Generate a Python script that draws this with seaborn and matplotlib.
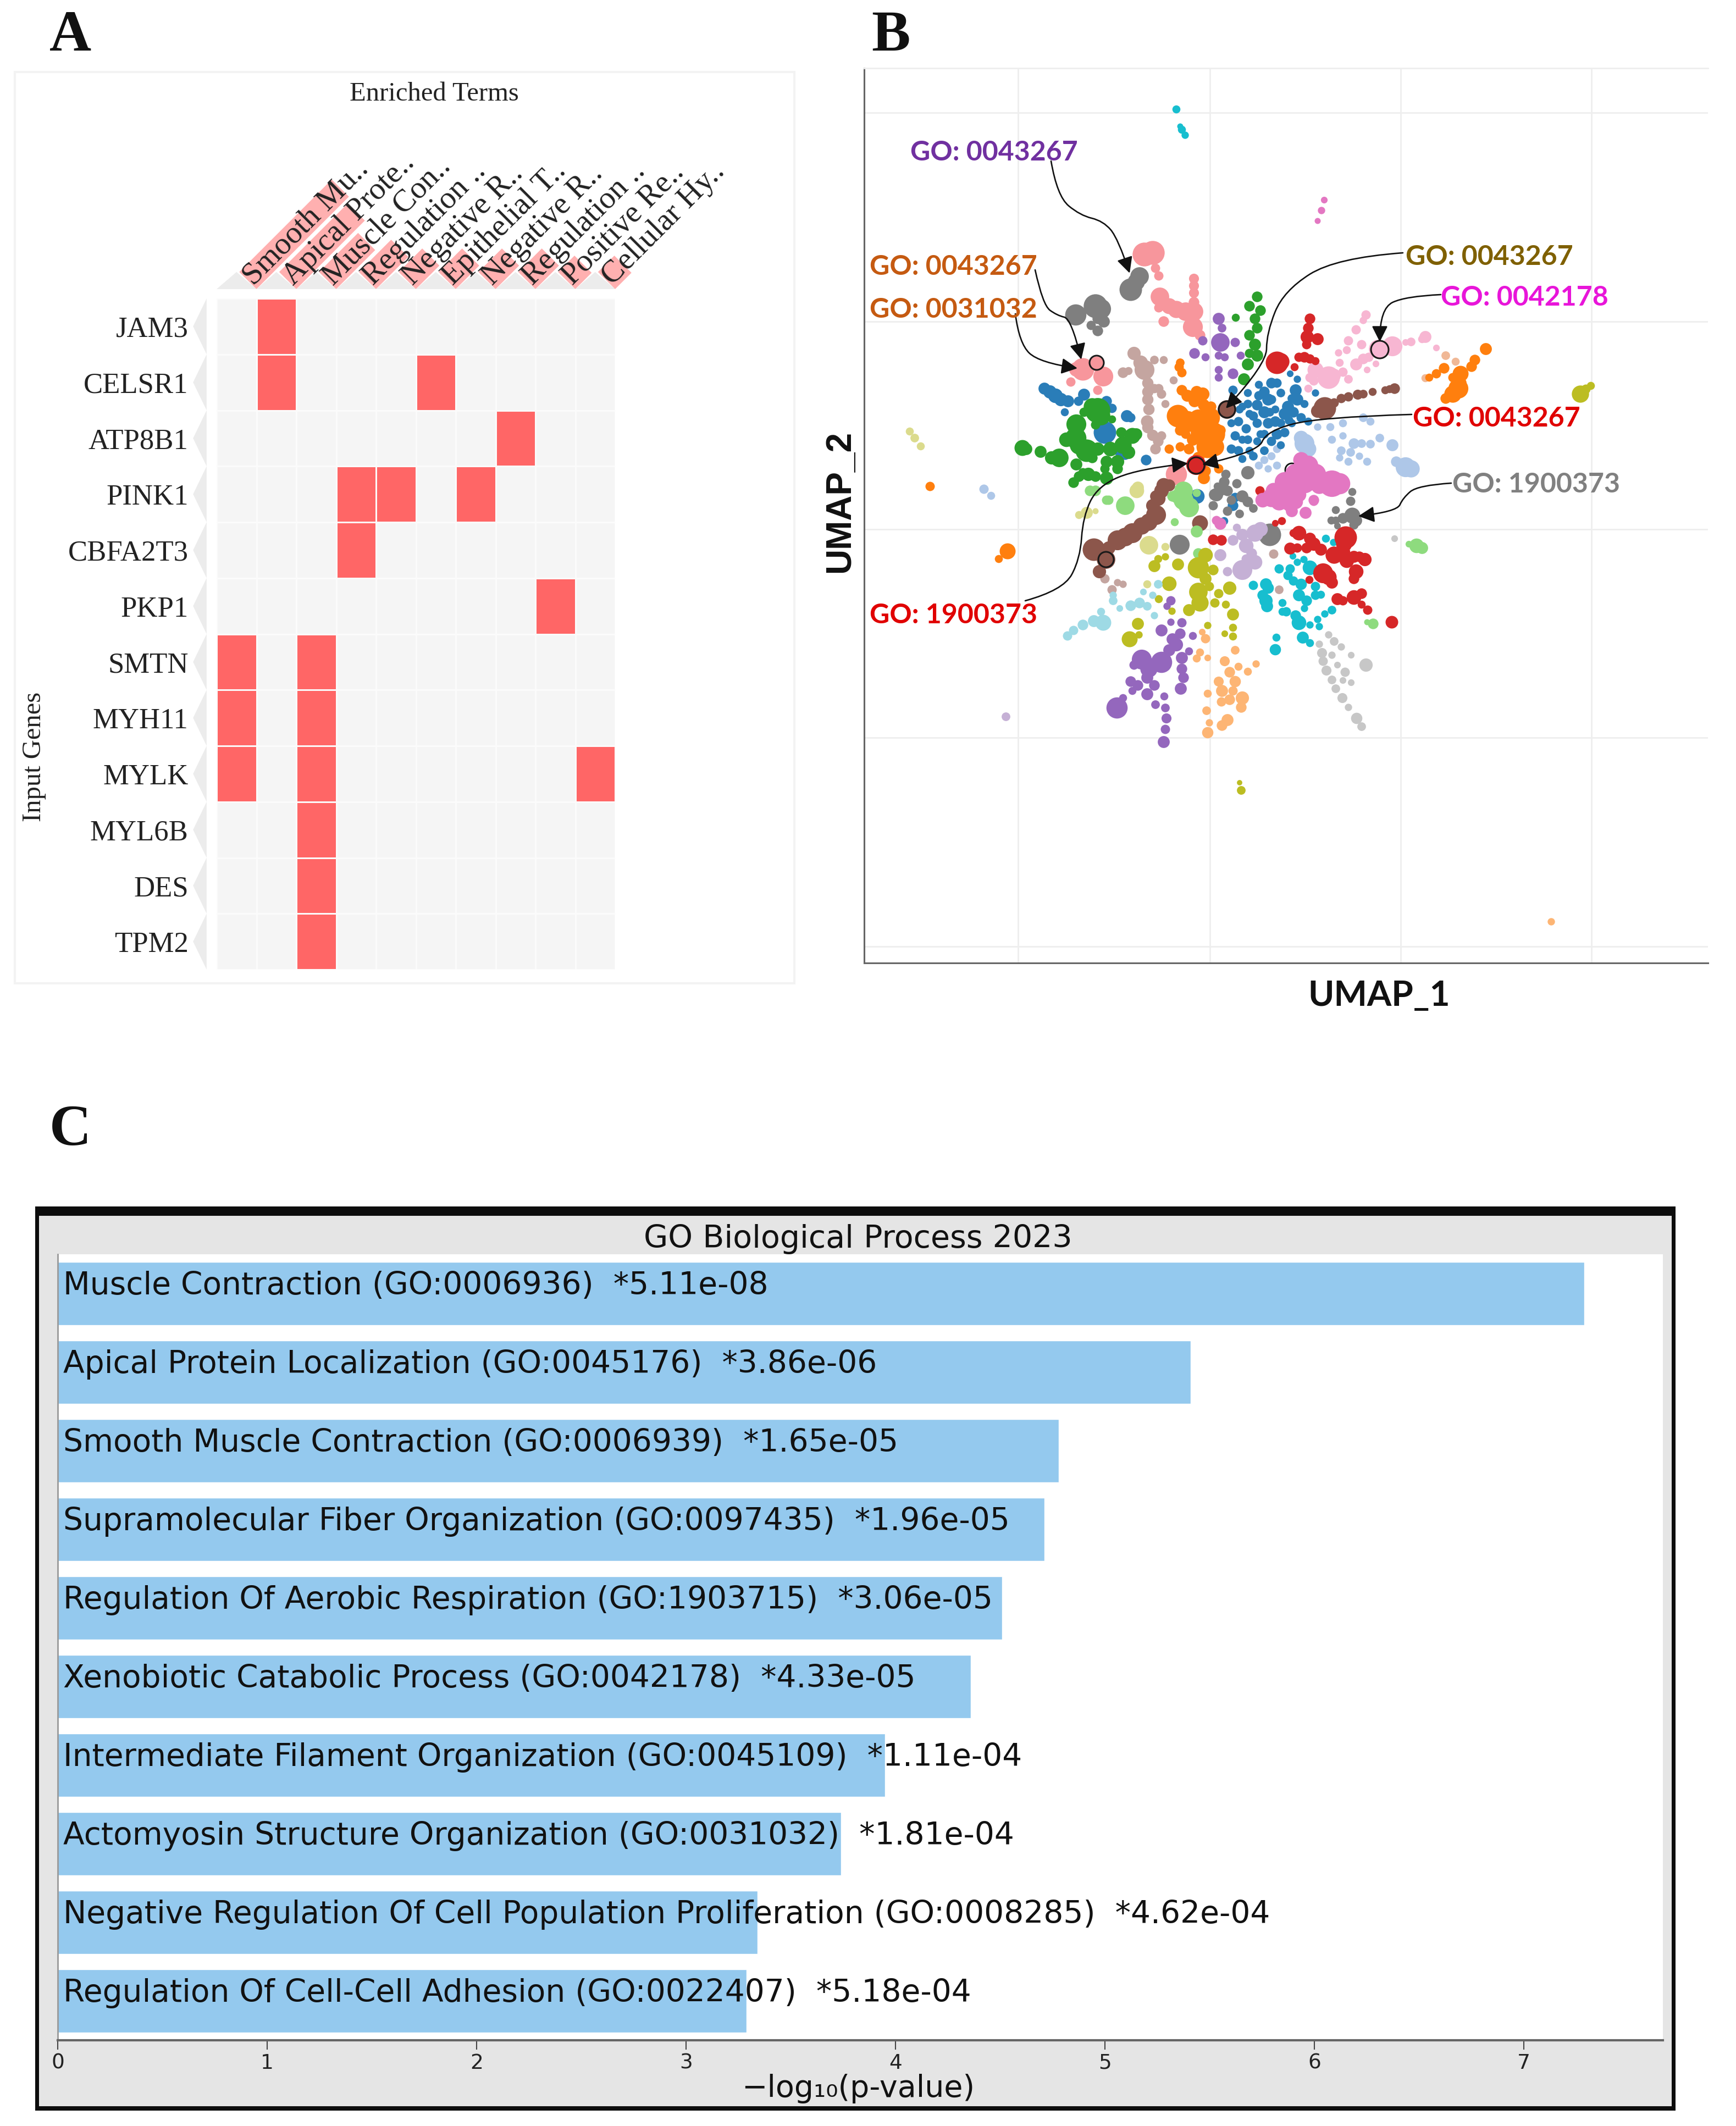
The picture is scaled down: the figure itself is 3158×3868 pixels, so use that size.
import numpy as np
import pandas as pd
import matplotlib
matplotlib.use("Agg")
import matplotlib.pyplot as plt
from matplotlib.colors import ListedColormap
from matplotlib.patches import FancyArrowPatch, Polygon, Rectangle
from matplotlib.path import Path
from matplotlib.transforms import ScaledTranslation
import seaborn as sns

sns.set_theme(style="white")
plt.rcParams["font.family"] = ["DejaVu Sans"]

W, H = 3158, 3868
DPI = 100
SERIF = "Liberation Serif"
SANS = "Lato"

# ---------------- Panel A data ----------------
genes = ["JAM3", "CELSR1", "ATP8B1", "PINK1", "CBFA2T3", "PKP1", "SMTN", "MYH11",
         "MYLK", "MYL6B", "DES", "TPM2"]
terms = ["Smooth Mu..", "Apical Prote..", "Muscle Con..", "Regulation ..", "Negative R..",
         "Epithelial T..", "Negative R..", "Regulation ..", "Positive Re..", "Cellular Hy.."]
term_scores = [2.32, 1.72, 0.98, 0.81, 0.59, 0.59, 0.59, 0.59, 0.41, 0.41]
membership = [
    [0, 1, 0, 0, 0, 0, 0, 0, 0, 0],
    [0, 1, 0, 0, 0, 1, 0, 0, 0, 0],
    [0, 0, 0, 0, 0, 0, 0, 1, 0, 0],
    [0, 0, 0, 1, 1, 0, 1, 0, 0, 0],
    [0, 0, 0, 1, 0, 0, 0, 0, 0, 0],
    [0, 0, 0, 0, 0, 0, 0, 0, 1, 0],
    [1, 0, 1, 0, 0, 0, 0, 0, 0, 0],
    [1, 0, 1, 0, 0, 0, 0, 0, 0, 0],
    [1, 0, 1, 0, 0, 0, 0, 0, 0, 1],
    [0, 0, 1, 0, 0, 0, 0, 0, 0, 0],
    [0, 0, 1, 0, 0, 0, 0, 0, 0, 0],
    [0, 0, 1, 0, 0, 0, 0, 0, 0, 0],
]

# ---------------- Panel B data ----------------
# The UMAP axes carry no tick labels; values are (x, y, dot diameter) read on the picture's own scale.
light_blue = [(2373,807,26),(2380,817,20),(2367,797,18),(2557,850,26),(2567,853,22),(2540,840,12),(2533,810,14),
    (2510,797,9),(2493,808,9),(2477,807,9),(2463,807,12),(2457,823,9),(2440,820,9),(2437,833,7),(2453,840,8),
    (2473,830,7),(2487,840,8),(2480,760,9),(2493,767,8),(2443,770,8),(2420,777,8),(2397,777,7),(2443,793,7),
    (2423,800,8),(2300,837,8),(2313,830,8),(2323,847,8),(2290,847,8),(2307,853,7),(2323,817,8),(1790,890,10),(1803,902,8)]
blue = [(1900,707,14),(1910,713,16),(1920,720,18),(1930,727,16),(1943,730,14),(1972,718,14),(1962,730,10),(2010,787,30),
    (2050,757,14),(2057,760,10),(2013,730,12),(2023,743,10),(1937,750,8),(2037,820,14),(2047,827,12),(2085,837,12),
    (2300,713,12),(2313,697,12),(2323,697,10),(2307,727,14),(2287,737,12),(2300,750,14),(2313,727,10),(2357,710,14),
    (2360,727,14),(2343,740,14),(2337,753,14),(2353,750,12),(2320,767,12),(2307,770,12),(2287,770,10),(2323,790,12),
    (2337,787,10),(2313,803,10),(2293,790,8),(2280,757,10),(2367,760,10),(2380,767,8),(2360,690,7),(2347,680,6),
    (2393,715,7),(2253,767,10),(2267,780,10),(2247,793,10),(2240,817,10),(2260,800,8),(2273,753,8),(2273,820,8),
    (2253,820,10),(2243,710,10),(2260,740,8),(2287,803,8),(2178,903,18),(2243,920,12),(2247,905,10),(2227,948,8),
    (2290,720,10),(2330,715,9),(2345,765,9),(2300,790,9),(2270,735,9),(2255,745,8),(2330,770,9),(2310,750,9),
    (2270,800,9),(2350,725,9),(2373,735,8),(2320,745,8),(2280,830,9),(2300,820,9),(2260,835,8),(2240,770,8),
    (2330,810,8),(2350,770,8),(2290,700,8),(2270,715,8)]
rosy = [(2063,643,16),(2075,660,18),(2082,673,26),(2043,678,12),(2053,675,8),(2100,655,9),(2117,655,8),(2088,697,13),
    (2088,713,13),(2088,727,13),(2090,745,13),(2108,707,10),(2113,717,10),(2100,707,10),(2087,767,15),(2088,778,13),
    (2097,792,13),(2107,803,12),(2102,817,12),(2113,793,10),(2120,735,8),(2135,692,8),(2317,1008,10),(2327,1073,9),
    (2023,1073,10),(2043,1063,7),(2033,1060,7),(2010,1053,10)]
grey = [(2073,503,24),(2067,513,22),(2057,527,30),(1957,573,28),(1993,557,32),(2003,562,26),(2008,585,14),(1997,580,12),
    (1985,592,10),(1997,602,12),(2213,900,16),(2233,893,12),(2260,903,14),(2207,920,10),(2233,930,10),(2270,913,12),
    (2310,973,30),(2146,991,26),(2270,860,16),(2227,877,12),(2210,900,14),(2223,893,10),(2230,863,10),(2460,938,20),
    (2467,947,14),(2443,943,12),(2430,947,8),(2422,947,8),(2430,928,8),(2457,912,10),(2460,895,8),(2463,955,10),(2433,957,6),
    (2250,880,10),(2240,910,10),(2215,885,8),(2280,925,9),(2255,935,9)]
cyan = [(2307,1070,13),(2303,1093,16),(2343,1047,10),(2327,1035,10),(2347,1035,10),(2383,1033,18),(2367,1063,13),(2353,1057,10),
    (2363,1083,14),(2377,1093,12),(2393,1083,10),(2393,1067,10),(2403,1082,8),(2333,1097,8),(2340,1113,10),(2357,1120,12),
    (2363,1133,18),(2370,1160,14),(2383,1170,8),(2320,1182,13),(2322,1160,8),(2397,1127,7),(2400,1140,7),(2383,1137,7),
    (2410,1117,7),(2423,1110,9),(2412,980,8),(2426,987,7),(2360,1023,7),(2352,1012,6),(2372,1018,7),(2373,1107,7),
    (2303,1063,14),(2280,1065,10),(2297,1083,12),(2305,1103,14),(2333,1113,8),(2140,199,8),(2150,236,8),(2156,246,7),(2147,230,5)]
lilac = [(2260,1037,26),(2283,1023,18),(2267,993,18),(2283,970,22),(2293,963,18),(2260,973,14),(2243,983,12),(2277,1007,12),
    (2220,1010,14),(2233,1040,10),(2267,1017,10),(2250,960,8),(1830,1304,9)]
salmon = [(2082,463,32),(2097,460,32),(2102,488,10),(2108,502,10),(2172,507,11),(2172,520,11),(2172,533,11),(2172,550,12),
    (2110,540,24),(2127,557,20),(2140,563,22),(2157,567,24),(2172,567,24),(2117,585,12),(2108,560,10),(2170,595,26),
    (2183,610,12),(1970,672,30),(1958,672,18),(1995,662,18),(2007,685,26),(1948,695,10),(1997,710,10),(2140,863,28)]
green = [(1997,747,34),(1987,740,22),(2003,757,24),(1958,772,26),(1957,797,28),(1940,800,18),(1977,820,30),(1963,810,24),
    (1927,833,24),(1913,833,16),(1860,815,20),(1867,817,14),(1893,822,14),(1997,817,16),(2020,817,18),(2043,810,22),
    (2060,793,20),(2067,790,14),(2040,787,12),(2053,823,16),(2033,840,16),(2033,853,12),(2013,840,14),(1987,833,12),
    (1958,845,14),(1980,863,16),(1963,867,12),(1953,878,12),(1993,867,12),(2013,870,16),(2010,853,10),(1970,860,10),
    (1972,750,10),(1993,773,10),(2023,763,8),(2287,540,12),(2293,565,12),(2283,580,12),(2287,597,12),(2283,627,14),
    (2287,647,14),(2273,557,12),(2273,610,12),(2273,643,10),(2270,663,14),(2263,690,14),(2248,578,8)]
orange = [(2145,668,10),(2150,678,10),(2147,660,9),(2143,757,30),(2160,767,28),(2180,763,26),(2200,760,28),(2207,790,32),
    (2197,813,30),(2210,813,24),(2183,787,24),(2150,710,12),(2160,720,14),(2177,713,14),(2188,717,16),(2173,730,14),
    (2190,737,14),(2203,740,12),(2147,783,12),(2157,790,10),(2170,800,14),(2127,817,10),(2147,813,10),(2163,817,12),
    (2220,783,12),(2190,870,14),(2217,853,10),(2193,857,12),(2180,833,14),(2703,635,14),(2683,655,12),(2677,667,12),
    (2657,680,20),(2643,687,10),(2627,670,12),(2613,680,10),(2600,687,8),(2653,707,26),(2643,717,22),(2630,725,12),
    (2657,697,14),(1692,885,10),(1833,1003,20),(1817,1017,8)]
purple_top = [(2217,580,14),(2223,597,9),(2220,623,24),(2247,623,10),(2188,620,10),(2173,643,12),(2193,650,8),(2217,647,8),
    (2228,650,8),(2257,647,8),(2217,673,8),(2217,687,8),(2243,680,12)]
red = [(2383,580,12),(2380,597,12),(2378,613,16),(2397,617,14),(2373,650,12),(2383,653,10),(2323,660,30),(2330,658,22),
    (2363,650,10),(2393,657,8),(2355,668,8),(2377,627,10),(2292,893,10),(2207,982,12),(2222,983,12),(2332,948,8),
    (2320,952,6),(2363,970,18),(2353,970,8),(2383,980,14),(2390,990,16),(2403,1000,14),(2347,998,14),(2360,997,10),
    (2377,997,12),(2448,978,30),(2445,990,20),(2427,1010,22),(2443,1005,18),(2450,1020,18),(2463,1013,14),(2483,1018,16),
    (2473,1013,12),(2407,1043,26),(2417,1050,20),(2423,1060,14),(2467,1040,18),(2463,1053,12),(2433,1090,14),(2443,1093,10),
    (2463,1087,18),(2477,1080,12),(2477,1100,8),(2488,1110,10),(2532,1132,15),(2382,1055,8)]
soft_pink = [(2485,573,10),(2480,583,7),(2467,600,10),(2453,620,10),(2450,637,8),(2477,627,10),(2507,635,24),(2533,630,26),
    (2567,622,9),(2557,623,6),(2593,613,14),(2587,617,8),(2613,633,6),(2435,642,7),(2437,660,8),(2480,653,12),(2467,663,14),
    (2490,650,10),(2417,687,30),(2393,673,20),(2427,683,16),(2443,677,10),(2453,690,9),(2383,687,10),(2390,693,10),
    (2380,707,8),(2487,673,6),(2503,662,6)]
tan = [(2630,647,9),(2593,688,8),(2648,658,8)]
brown = [(2410,743,30),(2397,748,16),(2427,733,10),(2440,725,10),(2453,722,10),(2470,718,11),(2480,717,9),(2497,713,8),
    (2520,710,8),(2537,707,12),(2528,708,8),(1990,1000,30),(2012,1018,24),(2000,1040,16),(2033,983,26),(2047,977,24),
    (2060,970,26),(2077,957,22),(2090,950,22),(2103,937,26),(2097,920,16),(2107,907,18),(2113,893,18),(2127,883,14),
    (2017,997,16),(2183,952,20),(2117,883,18),(2103,903,14),(2232,745,24)]
magenta = [(2367,837,20),(2380,847,26),(2393,863,28),(2423,880,36),(2437,880,28),(2357,863,28),(2337,877,26),(2373,877,30),
    (2317,893,20),(2347,893,26),(2400,883,22),(2313,907,22),(2340,910,24),(2357,913,18),(2390,910,12),(2297,910,18),
    (2347,917,20),(2350,930,14),(2375,933,14),(2390,912,10),(2327,913,22),(2310,903,18),(2363,900,18),(2220,953,14),
    (2213,947,10),(2409,364,6),(2404,383,7),(2397,402,5)]
light_green = [(2047,920,24),(2153,910,26),(2163,923,26),(2140,903,16),(1983,893,12),(1993,893,12),(2017,910,10),(2177,967,14),
    (2137,950,8),(2180,1007,12),(2177,897,8),(2153,893,24),(2133,903,12),(2577,993,18),(2587,997,14),(2563,990,6),
    (2498,1135,12),(2487,1132,5),(2013,910,10)]
khaki = [(2090,992,24),(2068,893,18),(1977,933,14),(1963,937,8),(2120,995,8),(1993,930,5),(2070,887,14),(2087,1063,8),
    (1655,785,8),(1664,797,9),(1675,812,8)]
olive = [(2180,1033,28),(2193,1010,18),(2193,1053,14),(2180,1077,24),(2183,1097,22),(2163,1110,14),(2207,1037,12),(2200,1067,10),
    (2237,1070,16),(2217,1080,10),(2243,1118,14),(2230,1100,8),(2100,1030,14),(2107,1017,8),(2120,1013,7),(2143,1027,14),
    (2127,1062,18),(2070,1135,14),(2055,1163,20),(2072,1155,7),(2108,1090,8),(2132,1112,7),(2243,1142,8),(2243,1158,8),
    (2228,1153,6),(2197,1138,7),(2210,1097,10),(2875,717,22),(2894,702,8),(2885,708,10),(2258,1438,9),(2255,1424,4)]
pale_cyan = [(2007,1133,20),(1990,1130,14),(1970,1137,12),(1953,1147,10),(1942,1157,10),(2025,1093,9),(2025,1083,7),(2003,1113,8),
    (2037,1107,6),(2057,1102,12),(2073,1097,12),(2087,1103,9),(2100,1120,7),(2097,1083,7),(2107,1063,9),(2080,1077,6)]
purple = [(2077,1200,26),(2113,1205,28),(2090,1217,22),(2087,1233,14),(2070,1247,12),(2087,1263,14),(2100,1247,12),(2032,1288,28),
    (2043,1270,8),(2057,1240,12),(2060,1257,8),(2113,1147,14),(2133,1163,14),(2147,1153,12),(2140,1173,16),(2127,1183,14),
    (2150,1133,10),(2130,1132,7),(2150,1197,14),(2150,1217,12),(2153,1233,12),(2148,1253,14),(2120,1288,9),(2122,1307,11),
    (2120,1327,10),(2117,1350,14),(2102,1282,9),(2118,1267,8),(2163,1185,8),(2170,1157,8),(2130,1093,10),(2123,1103,7),(2063,1210,10)]
peach = [(2228,1203,11),(2237,1223,12),(2247,1240,13),(2260,1270,16),(2258,1287,12),(2237,1273,12),(2223,1257,14),(2222,1277,10),
    (2233,1310,14),(2223,1320,12),(2247,1183,9),(2253,1213,8),(2285,1208,7),(2270,1222,8),(2193,1162,10),(2187,1150,6),
    (2183,1187,8),(2177,1198,8),(2197,1197,6),(2197,1262,8),(2195,1293,9),(2200,1315,7),(2197,1333,13),(2243,1257,10),
    (2217,1240,11),(2822,1677,7)]
silver = [(2417,1155,7),(2427,1167,9),(2440,1177,7),(2400,1172,7),(2405,1188,11),(2407,1203,10),(2413,1220,11),(2423,1237,9),
    (2430,1253,9),(2442,1270,11),(2453,1287,7),(2468,1307,13),(2477,1322,9),(2485,1210,16),(2458,1192,6),(2423,1192,7),
    (2433,1210,6),(2447,1223,10),(2443,1238,6),(2458,1242,6),(2537,980,6)]
flagged_red = [(2176,846,26)]
umap_colors = {"light_blue": "#aec7e8", "blue": "#2a7db8", "rosy": "#c4a5a0", "grey": "#7f7f7f", "cyan": "#17becf",
    "lilac": "#c5b0d5", "salmon": "#f7969c", "green": "#2ca02c", "orange": "#ff7f0e", "purple_top": "#9467bd",
    "red": "#d62728", "soft_pink": "#f7b6d2", "tan": "#f0b896", "brown": "#8c564b", "magenta": "#e377c2",
    "light_green": "#8edb7e", "khaki": "#dbdb8d", "olive": "#bcbd22", "pale_cyan": "#9edae5", "purple": "#9467bd",
    "peach": "#fdb574", "silver": "#c7c7c7", "flagged_red": "#d62728"}
umap_clusters = {"light_blue": light_blue, "blue": blue, "rosy": rosy, "grey": grey, "cyan": cyan, "lilac": lilac,
    "salmon": salmon, "green": green, "purple_top": purple_top, "soft_pink": soft_pink, "tan": tan, "orange": orange,
    "red": red, "brown": brown, "magenta": magenta, "light_green": light_green, "khaki": khaki, "olive": olive,
    "pale_cyan": pale_cyan, "purple": purple, "peach": peach, "silver": silver, "flagged_red": flagged_red}
circled_points = [(2510,636,32),(1995,660,26),(2232,745,30),(2176,847,30),(2012,1018,28)]
hidden_circle = [(2350,855,24)]
go_labels = ["GO: 0043267", "GO: 0043267", "GO: 0031032", "GO: 0043267", "GO: 0042178", "GO: 0043267", "GO: 1900373", "GO: 1900373"]
go_colors = ["#7030a0", "#c55a11", "#c55a11", "#7f6000", "#e815d9", "#e00000", "#808080", "#e00000"]
go_label_xy = [(1656,278), (1582,486), (1582,563), (2557,468), (2621,542), (2570,762), (2642,881), (1582,1119)]
go_arrows = [
    [(1912,293),(1923,357),(1965,392),(2007,402),(2034,434),(2055,497)],
    [(1883,491),(1897,555),(1923,574),(1949,580),(1967,654)],
    [(1847,571),(1854,625),(1891,660),(1960,670)],
    [(2552,460),(2430,469),(2335,529),(2304,606),(2304,663),(2230,743)],
    [(2621,536),(2557,539),(2510,561),(2510,622)],
    [(2568,754),(2399,759),(2304,784),(2288,823),(2187,845)],
    [(2640,879),(2579,883),(2552,906),(2541,931),(2471,939)],
    [(1865,1093),(1934,1074),(1965,1017),(1970,940),(1997,884),(2071,853),(2161,843)],
]
umap_xgrid = [1852, 2201, 2548, 2895]
umap_ygrid = [205, 585, 963, 1342, 1722]

# ---------------- Panel C data ----------------
go_terms = ["Muscle Contraction (GO:0006936)", "Apical Protein Localization (GO:0045176)",
            "Smooth Muscle Contraction (GO:0006939)", "Supramolecular Fiber Organization (GO:0097435)",
            "Regulation Of Aerobic Respiration (GO:1903715)", "Xenobiotic Catabolic Process (GO:0042178)",
            "Intermediate Filament Organization (GO:0045109)", "Actomyosin Structure Organization (GO:0031032)",
            "Negative Regulation Of Cell Population Proliferation (GO:0008285)",
            "Regulation Of Cell-Cell Adhesion (GO:0022407)"]
p_labels = ["*5.11e-08", "*3.86e-06", "*1.65e-05", "*1.96e-05", "*3.06e-05", "*4.33e-05", "*1.11e-04",
            "*1.81e-04", "*4.62e-04", "*5.18e-04"]
neg_log_p = [7.29, 5.41, 4.78, 4.71, 4.51, 4.36, 3.95, 3.74, 3.34, 3.29]


fig = plt.figure(figsize=(W / DPI, H / DPI), dpi=DPI, facecolor="white")


def px_axes(left, top, right, bottom, **kw):
    return fig.add_axes([left / W, 1 - bottom / H, (right - left) / W, (bottom - top) / H], **kw)


def fig_text(x, y, s, **kw):
    fig.text(x / W, 1 - y / H, s, **kw)


def fig_rect(left, top, right, bottom, zorder=-2, **kw):
    fig.add_artist(Rectangle((left / W, 1 - bottom / H), (right - left) / W, (bottom - top) / H,
                             transform=fig.transFigure, zorder=zorder, **kw))


# panel letters
for letter, x, y in [("A", 90, 66), ("B", 1585, 66), ("C", 90, 2058)]:
    fig_text(x, y, letter, family=SERIF, fontweight="bold", fontsize=76, color="#111111", ha="left", va="center")

# ---------------- Panel A ----------------
fig_rect(27, 131, 1445, 1789, facecolor="white", edgecolor="#f3f3f3", linewidth=3)
fig_text(790, 171, "Enriched Terms", family=SERIF, fontsize=35, color="#222222", ha="center", va="center")
fig_text(62, 1377, "Input Genes", family=SERIF, fontsize=35, color="#222222", rotation=90, ha="center", va="center")

ax_hm = px_axes(394, 543, 1119, 1764)
sns.heatmap(pd.DataFrame(membership, index=genes, columns=terms), ax=ax_hm,
            cmap=ListedColormap(["#f5f5f5", "#ff6666"]), vmin=0, vmax=1, cbar=False,
            linewidths=2, linecolor="#fbfbfb", xticklabels=False, yticklabels=True)
ax_hm.tick_params(axis="y", length=0, pad=37, labelrotation=0)
for lab in ax_hm.get_yticklabels():
    lab.set_family(SERIF)
    lab.set_fontsize(38)
    lab.set_color("#222222")
    lab.set_transform(lab.get_transform() + ScaledTranslation(0, -6 / DPI, fig.dpi_scale_trans))
for i in range(len(genes)):
    ax_hm.add_patch(Polygon([(-0.25, i), (-0.59, i + 0.5), (-0.25, i + 1)], closed=True, facecolor="#ececec",
                            edgecolor="none", clip_on=False))

col_w = 725 / len(terms)
header_h = 526 - 300
ax_head = px_axes(394, 300, 1119, 526)
ax_head.set_xlim(0, len(terms))
ax_head.set_ylim(0, header_h / col_w)
ax_head.axis("off")
half = 0.43
for i, (term, score) in enumerate(zip(terms, term_scores)):
    ax_head.add_patch(Polygon([(i, 0), (i + 1, 0), (i + 0.5, half)], closed=True, facecolor="#ececec",
                              edgecolor="none", clip_on=False))
    bx = i + 1
    ax_head.add_patch(Polygon([(bx, 0), (bx - half, half), (bx - half + score, half + score), (bx + score, score)],
                              closed=True, facecolor="#ffb0b0", edgecolor="none", clip_on=False))
for i, term in enumerate(terms):
    ax_head.text(i + 1 - half / 2, half / 2, term, family=SERIF, fontsize=41, color="#222222", rotation=45,
                 rotation_mode="anchor", ha="left", va="center", clip_on=False)

# ---------------- Panel B ----------------
ax_u = px_axes(1572, 124, 3107, 1752)
ax_u.set_xlim(1572, 3107)
ax_u.set_ylim(1752, 124)
ax_u.set_xticks(umap_xgrid)
ax_u.set_yticks(umap_ygrid)
ax_u.tick_params(length=0, labelbottom=False, labelleft=False)
ax_u.grid(True, color="#eeeeee", linewidth=2)
ax_u.set_axisbelow(True)
ax_u.spines["right"].set_visible(False)
ax_u.spines["top"].set_color("#eeeeee")
ax_u.spines["top"].set_linewidth(2)
for side in ("left", "bottom"):
    ax_u.spines[side].set_color("#666666")
    ax_u.spines[side].set_linewidth(2.2)

hx, hy, hd = zip(*hidden_circle)
ax_u.scatter(hx, hy, s=(0.72 * np.array(hd)) ** 2, facecolor="none", edgecolor="#111111", linewidth=2, zorder=2)

rows = []
for name, pts in umap_clusters.items():
    for x, y, d in pts:
        rows.append((name, x, y, (0.72 * (d * 1.2 + 5)) ** 2))
umap_df = pd.DataFrame(rows, columns=["cluster", "x", "y", "area"])
amin, amax = umap_df["area"].min(), umap_df["area"].max()
sns.scatterplot(data=umap_df, x="x", y="y", hue="cluster", palette=umap_colors, size="area", sizes=(amin, amax),
                size_norm=(amin, amax), linewidth=0, legend=False, ax=ax_u, zorder=3)
ax_u.set_xlabel("")
ax_u.set_ylabel("")
cx, cy, cd = zip(*circled_points)
ax_u.scatter(cx, cy, s=(0.72 * np.array(cd)) ** 2, facecolor="none", edgecolor="#1a1a1a", linewidth=2.2, zorder=4)


def smooth_path(points):
    p = np.array(points, dtype=float)
    verts, codes = [p[0]], [Path.MOVETO]
    n = len(p)
    for i in range(1, n - 1):
        end = (p[i] + p[i + 1]) / 2 if i < n - 2 else p[n - 1]
        verts += [p[i], end]
        codes += [Path.CURVE3, Path.CURVE3]
    return Path(verts, codes)


for pts in go_arrows:
    ax_u.add_patch(FancyArrowPatch(path=smooth_path(pts), arrowstyle="-|>,head_length=1.1,head_width=0.55",
                                   mutation_scale=16, color="#111111", linewidth=1.9, zorder=5, clip_on=False))
for label, color, (x, y) in zip(go_labels, go_colors, go_label_xy):
    ax_u.text(x, y, label, family=SANS, fontsize=36, fontweight="bold", color=color, ha="left", va="center",
              zorder=6, clip_on=False)

fig_text(2509, 1811, "UMAP_1", family=SANS, fontweight="bold", fontsize=46, color="#111111", ha="center", va="center")
fig_text(1528, 913, "UMAP_2", family="Liberation Sans", fontweight="bold", fontsize=46, color="#111111",
         rotation=90, ha="center", va="center")

# ---------------- Panel C ----------------
fig_rect(67, 2203, 3041, 3836, facecolor="#e5e5e5", edgecolor="none")
for rect in [(64, 2195, 3048, 2212), (64, 3832, 3048, 3840), (64, 2195, 71, 3840), (3041, 2195, 3048, 3840)]:
    fig_rect(*rect, zorder=-1, facecolor="#0d0d0d", edgecolor="none")
fig_text(1561, 2255, "GO Biological Process 2023", fontsize=41, color="#111111", ha="center", va="center")

ax_c = px_axes(105, 2282, 3025, 3712, facecolor="white")
sns.barplot(x=neg_log_p, y=go_terms, orient="h", color="#94c9ee", saturation=1, width=0.8, ax=ax_c)
ax_c.set_xlim(0, 2920 / 381)
ax_c.set_ylim(9.5, -0.5)
ax_c.set_yticks([])
ax_c.set_ylabel("")
ax_c.set_xticks(range(8))
ax_c.tick_params(axis="x", length=12, width=1.5, color="#444444", labelsize=27, labelcolor="#222222", pad=5, bottom=True)
for side in ("top", "right"):
    ax_c.spines[side].set_visible(False)
ax_c.spines["left"].set_color("#999999")
ax_c.spines["left"].set_linewidth(2)
ax_c.spines["bottom"].set_color("#666666")
ax_c.spines["bottom"].set_linewidth(3)
for i, (term, p) in enumerate(zip(go_terms, p_labels)):
    ax_c.text(0.025, i - 0.10, f"{term}  {p}", fontsize=40.8, color="#111111", ha="left", va="center")
fig_text(1561, 3800, "\u2212log\u2081\u2080(p-value)", fontsize=40, color="#111111", ha="center", va="center")

fig.savefig("out.png", dpi=DPI)
